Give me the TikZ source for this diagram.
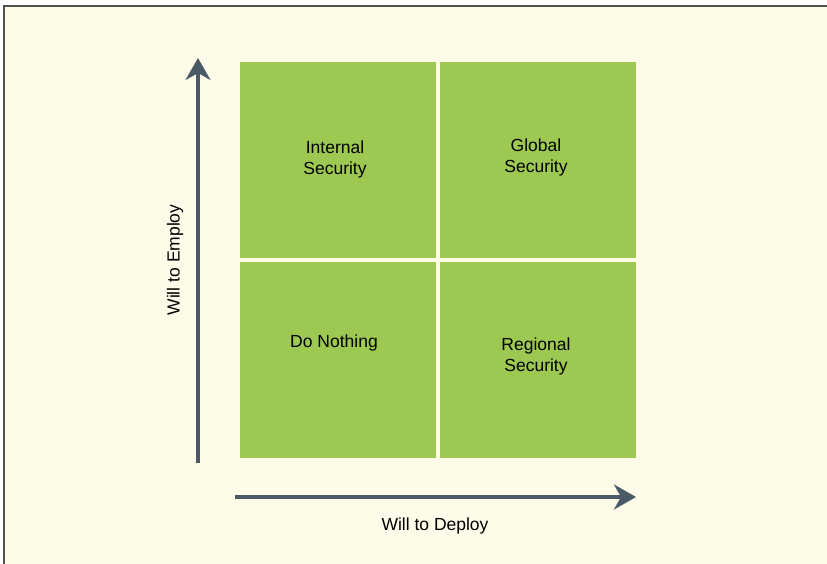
\documentclass[tikz,border=0pt]{standalone}
\usepackage{fontspec}
\setmainfont{Liberation Sans}
\usetikzlibrary{arrows.meta,positioning}
\definecolor{BackClr}{RGB}{255,251,233}
\definecolor{QuadClr}{RGB}{157,200,82}
\definecolor{AxisClr}{RGB}{74,90,102}
\definecolor{FrameClr}{RGB}{80,80,80}

\begin{document}
\begin{tikzpicture}[x=1pt,y=-1pt,
  quad/.style={fill=QuadClr,minimum width=196pt,minimum height=196pt,inner sep=0pt},
  txt/.style={font=\fontsize{17.5}{21}\selectfont,align=center,text=black},
  axis/.style={AxisClr,line width=3.5pt,-{Stealth[length=22pt,width=25pt,inset=7pt]}}]
\useasboundingbox (0,0) rectangle (827,564);
\fill[BackClr] (4,6) rectangle (827,564);
\draw[FrameClr,line width=1.5pt] (4,564) -- (4,6) -- (827,6);

% the four fields
\node[quad,anchor=north west] (intsq) at (240,62) {};
\node[quad,right=3pt of intsq] (glosq) {};
\node[quad,below=3pt of intsq] (nothsq) {};
\node[quad,below=3pt of glosq] (regsq) {};

\node[txt] (intsec) at (335,159) {Internal\\Security};
\node[txt] (glosec) at (536,157) {Global\\Security};
\node[txt] (noth) at (334,343) {Do Nothing};
\node[txt] (regsec) at (536,356) {Regional\\Security};

% axes
\coordinate (ybot) at (198,463);
\coordinate (ytop) at (198,58);
\coordinate (xleft) at (235,497);
\coordinate (xright) at (636,497);
\draw[axis] (ybot) -- (ytop);
\draw[axis] (xleft) -- (xright);

\node[txt,rotate=90] (employ) at (175,260) {Will to Employ};
\node[txt] (deploy) at (435,526) {Will to Deploy};
\end{tikzpicture}
\end{document}
